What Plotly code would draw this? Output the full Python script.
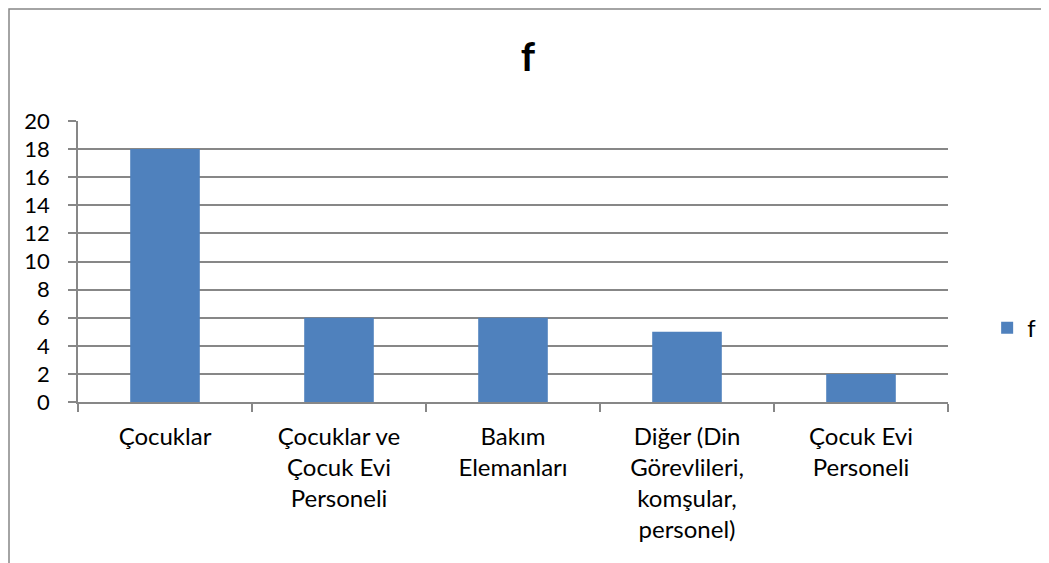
import plotly.graph_objects as go

categories = ["Çocuklar", "Çocuklar ve<br>Çocuk Evi<br>Personeli", "Bakım<br>Elemanları",
              "Diğer (Din<br>Görevlileri,<br>komşular,<br>personel)", "Çocuk Evi<br>Personeli"]
values = [18, 6, 6, 5, 2]
series_name = "f"
y_ticks = [0, 2, 4, 6, 8, 10, 12, 14, 16, 18, 20]

FONT = "Lato, Carlito, 'Liberation Sans', sans-serif"
GRID = "#878787"

fig = go.Figure()
fig.add_trace(go.Bar(x=categories, y=values, name=series_name,
                     marker=dict(color="#4F81BD", line=dict(width=0)),
                     showlegend=True))

fig.update_layout(
    width=1049, height=563,
    margin=dict(l=70, r=109, t=113, b=169),
    paper_bgcolor="white", plot_bgcolor="white",
    font=dict(family=FONT, size=23, color="black"),
    title=dict(text="<b>f</b>", x=520 / 1049, xanchor="center",
               y=1 - 49 / 563, yanchor="middle",
               font=dict(size=40, family=FONT, color="black")),
    bargap=0.6,
    showlegend=True,
    legend=dict(x=1.045, y=0.263, xanchor="left", yanchor="middle",
                font=dict(size=24, family=FONT), bgcolor="rgba(0,0,0,0)",
                itemwidth=30),
    xaxis=dict(type="category", showline=True, linecolor=GRID, linewidth=1.5,
               ticks="outside", tickson="boundaries", ticklen=8, tickcolor=GRID,
               tickwidth=1.5, showgrid=False, ticklabelstandoff=12,
               tickfont=dict(size=24, family=FONT)),
    yaxis=dict(range=[0, 20], tickvals=y_ticks, showline=True, linecolor=GRID,
               linewidth=1.5, ticks="outside", ticklen=8, tickcolor=GRID,
               tickwidth=1.5, showgrid=True, gridcolor=GRID, gridwidth=1.5,
               zeroline=False, ticklabelstandoff=14,
               tickfont=dict(size=22, family=FONT)),
)

fig.add_shape(type="rect", xref="paper", yref="paper",
              x0=(9 - 78) / 870, x1=(1047 - 78) / 870,
              y0=-0.7, y1=(402 - 9) / 281,
              line=dict(color="#878787", width=1.5), layer="below")

fig.write_html("out.html")
